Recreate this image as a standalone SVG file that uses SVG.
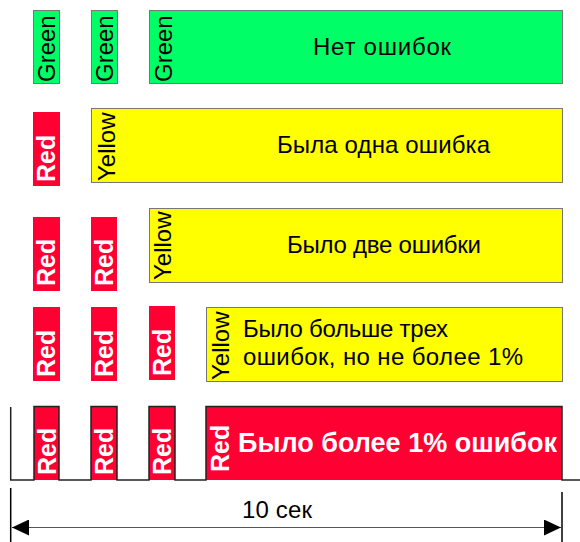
<svg xmlns="http://www.w3.org/2000/svg" width="580" height="542" viewBox="0 0 580 542">
<style>
.g{fill:#00ff66;stroke:#777;stroke-width:1}
.y{fill:#ffff00;stroke:#777;stroke-width:1}
.r{fill:#ff0033}
.lbl{font-family:"Liberation Sans",Arial,sans-serif;font-size:24px;fill:#000}
.rl{font-family:"Liberation Sans",Arial,sans-serif;font-size:25px;font-weight:bold;fill:#fff}
.t{font-family:"Liberation Sans",Arial,sans-serif;font-size:24px;fill:#000}
.tb{font-family:"Liberation Sans",Arial,sans-serif;font-size:27px;font-weight:bold;fill:#fff}
.wave{fill:none;stroke:#222;stroke-width:1.5}
.dim{stroke:#000;stroke-width:1.5;fill:none}
.arr{stroke:#555;stroke-width:1;fill:none}
</style>
<defs>
<marker id="ah" markerUnits="userSpaceOnUse" markerWidth="18" markerHeight="16" refX="17" refY="8" orient="auto-start-reverse" viewBox="0 0 18 16">
<path d="M0,0 L17,8 L0,16 Z" fill="#000"/>
</marker>
</defs>

<!-- Row 1 -->
<g id="row1-a"><rect class="g" x="33.5" y="10.5" width="26" height="73"/><text class="lbl" transform="translate(55,82) rotate(-90)">Green</text></g>
<g id="row1-b"><rect class="g" x="91.5" y="10.5" width="26" height="73"/><text class="lbl" transform="translate(113,82) rotate(-90)">Green</text></g>
<g id="row1-c"><rect class="g" x="149.5" y="10.5" width="413" height="73"/><text class="lbl" transform="translate(172,82) rotate(-90)">Green</text><text class="t" x="313" y="55" textLength="138">Нет ошибок</text></g>

<!-- Row 2 -->
<g id="row2-a"><rect class="r" x="33" y="112" width="27" height="74"/><text class="rl" transform="translate(55,182) rotate(-90)">Red</text></g>
<g id="row2-b"><rect class="y" x="91.5" y="108.5" width="471" height="74"/><text class="lbl" transform="translate(115,181) rotate(-90)">Yellow</text><text class="t" x="277" y="153" textLength="213">Была одна ошибка</text></g>

<!-- Row 3 -->
<g id="row3-a"><rect class="r" x="33" y="217" width="27" height="74"/><text class="rl" transform="translate(55,286) rotate(-90)">Red</text></g>
<g id="row3-b"><rect class="r" x="91" y="217" width="26" height="74"/><text class="rl" transform="translate(113,286) rotate(-90)">Red</text></g>
<g id="row3-c"><rect class="y" x="149.5" y="208.5" width="413" height="74"/><text class="lbl" transform="translate(171,280) rotate(-90)">Yellow</text><text class="t" x="287" y="253" textLength="194">Было две ошибки</text></g>

<!-- Row 4 -->
<g id="row4-a"><rect class="r" x="33" y="307" width="27" height="74"/><text class="rl" transform="translate(55,377) rotate(-90)">Red</text></g>
<g id="row4-b"><rect class="r" x="91" y="307" width="26" height="74"/><text class="rl" transform="translate(113,377) rotate(-90)">Red</text></g>
<g id="row4-c"><rect class="r" x="149" y="306" width="26" height="74"/><text class="rl" transform="translate(171,376) rotate(-90)">Red</text></g>
<g id="row4-d"><rect class="y" x="206.5" y="307.5" width="356" height="74"/><text class="lbl" transform="translate(229,380) rotate(-90)">Yellow</text><text class="t" x="243" y="337" textLength="205">Было больше трех</text><text class="t" x="243" y="365" textLength="280">ошибок, но не более 1%</text></g>

<!-- Row 5 -->
<g id="row5-a"><rect class="r" x="34" y="406" width="25" height="74"/><text class="rl" transform="translate(56,475) rotate(-90)">Red</text></g>
<g id="row5-b"><rect class="r" x="91" y="406" width="26" height="74"/><text class="rl" transform="translate(113,475) rotate(-90)">Red</text></g>
<g id="row5-c"><rect class="r" x="149" y="406" width="26" height="74"/><text class="rl" transform="translate(171,475) rotate(-90)">Red</text></g>
<g id="row5-d"><rect class="r" x="206" y="406" width="356" height="74"/><text class="rl" transform="translate(229,472) rotate(-90)">Red</text><text class="tb" x="238" y="452" textLength="319">Было более 1% ошибок</text></g>
<g id="waveform"><path class="wave" d="M10.7,407 V480 H34 V406.5 H59 V480 H91 V406.5 H117 V480 H149 V406.5 H175 V480 H206 V406.5 H562 V480 H580"/></g>

<!-- Dimension -->
<g id="connectors">
<line class="dim" x1="10.7" y1="488" x2="10.7" y2="542"/>
<line class="dim" x1="562" y1="492" x2="562" y2="542"/>
<line class="arr" x1="12" y1="527.5" x2="561" y2="527.5" marker-start="url(#ah)" marker-end="url(#ah)"/>
<text class="t" x="242" y="518" textLength="70">10 сек</text>
</g>
</svg>
